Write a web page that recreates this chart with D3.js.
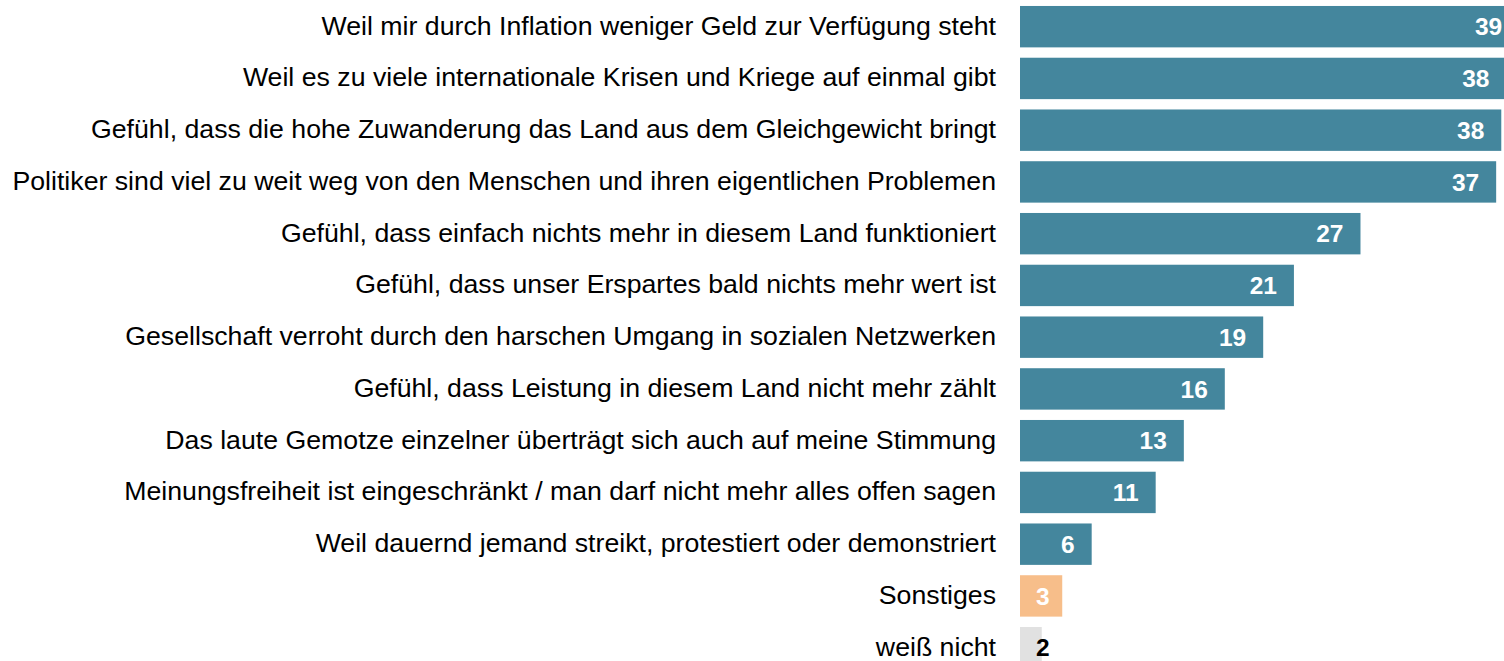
<!DOCTYPE html>
<html>
<head>
<meta charset="utf-8">
<script src="https://cdn.jsdelivr.net/npm/d3@7"></script>
<style>
  body { margin: 0; background: #fff; overflow: hidden; }
  text { font-family: "Liberation Sans", Arial, sans-serif; }
</style>
</head>
<body>
<div id="chart"></div>
<script>
// categories, top to bottom
var categories = [
  "Weil mir durch Inflation weniger Geld zur Verfügung steht",
  "Weil es zu viele internationale Krisen und Kriege auf einmal gibt",
  "Gefühl, dass die hohe Zuwanderung das Land aus dem Gleichgewicht bringt",
  "Politiker sind viel zu weit weg von den Menschen und ihren eigentlichen Problemen",
  "Gefühl, dass einfach nichts mehr in diesem Land funktioniert",
  "Gefühl, dass unser Erspartes bald nichts mehr wert ist",
  "Gesellschaft verroht durch den harschen Umgang in sozialen Netzwerken",
  "Gefühl, dass Leistung in diesem Land nicht mehr zählt",
  "Das laute Gemotze einzelner überträgt sich auch auf meine Stimmung",
  "Meinungsfreiheit ist eingeschränkt / man darf nicht mehr alles offen sagen",
  "Weil dauernd jemand streikt, protestiert oder demonstriert",
  "Sonstiges",
  "weiß nicht"
];
// percent (labels show rounded values)
var values = [39.0, 38.0, 37.6, 37.2, 26.6, 21.4, 19.0, 16.0, 12.8, 10.6, 5.6, 3.3, 1.7];
// bar kind: main answer, other, don't know
var kinds = ["main", "main", "main", "main", "main", "main", "main", "main", "main", "main", "main", "other", "dk"];

var colors = {main: "#44869d", other: "#f7be8a", dk: "#e1e1e1"};
var labelColors = {main: "#ffffff", other: "#ffffff", dk: "#000000"};

var width = 1504, height = 661;
var x0 = 1020;

var svg = d3.select("#chart")
  .append("svg")
    .attr("width", width)
    .attr("height", height);

var x = d3.scaleLinear()
    .domain([0, 39])
    .range([x0, x0 + 39 * 12.8]);

var y = d3.scaleBand()
    .domain(categories)
    .range([0.8, 0.8 + 13 * 51.75])
    .paddingInner(0.2)
    .paddingOuter(0.1);

var rows = categories.map(function(c, i) {
  return {cat: c, value: values[i], kind: kinds[i]};
});

// category labels
svg.selectAll("text.cat")
    .data(rows)
    .enter()
    .append("text")
      .attr("class", "cat")
      .attr("x", x0 - 24)
      .attr("y", function(d) { return y(d.cat) + y.bandwidth() / 2; })
      .attr("dy", "0.3em")
      .style("text-anchor", "end")
      .style("font-size", "26.7px")
      .style("fill", "#000")
      .text(function(d) { return d.cat; });

// bars
svg.selectAll("rect")
    .data(rows)
    .enter()
    .append("rect")
      .attr("x", x(0))
      .attr("y", function(d) { return y(d.cat); })
      .attr("width", function(d) { return x(d.value) - x(0); })
      .attr("height", y.bandwidth())
      .style("fill", function(d) { return colors[d.kind]; });

// value labels
svg.selectAll("text.val")
    .data(rows)
    .enter()
    .append("text")
      .attr("class", "val")
      .attr("y", function(d) { return y(d.cat) + y.bandwidth() / 2; })
      .attr("dy", "0.35em")
      .style("text-anchor", "end")
      .style("font-size", "24.5px")
      .style("font-weight", "bold")
      .style("fill", function(d) { return labelColors[d.kind]; })
      .text(function(d) { return Math.round(d.value); })
      .attr("x", function(d) {
        var w = this.getComputedTextLength();
        return Math.max(x(d.value) - 17, x0 + 16 + w);
      });
</script>
</body>
</html>
